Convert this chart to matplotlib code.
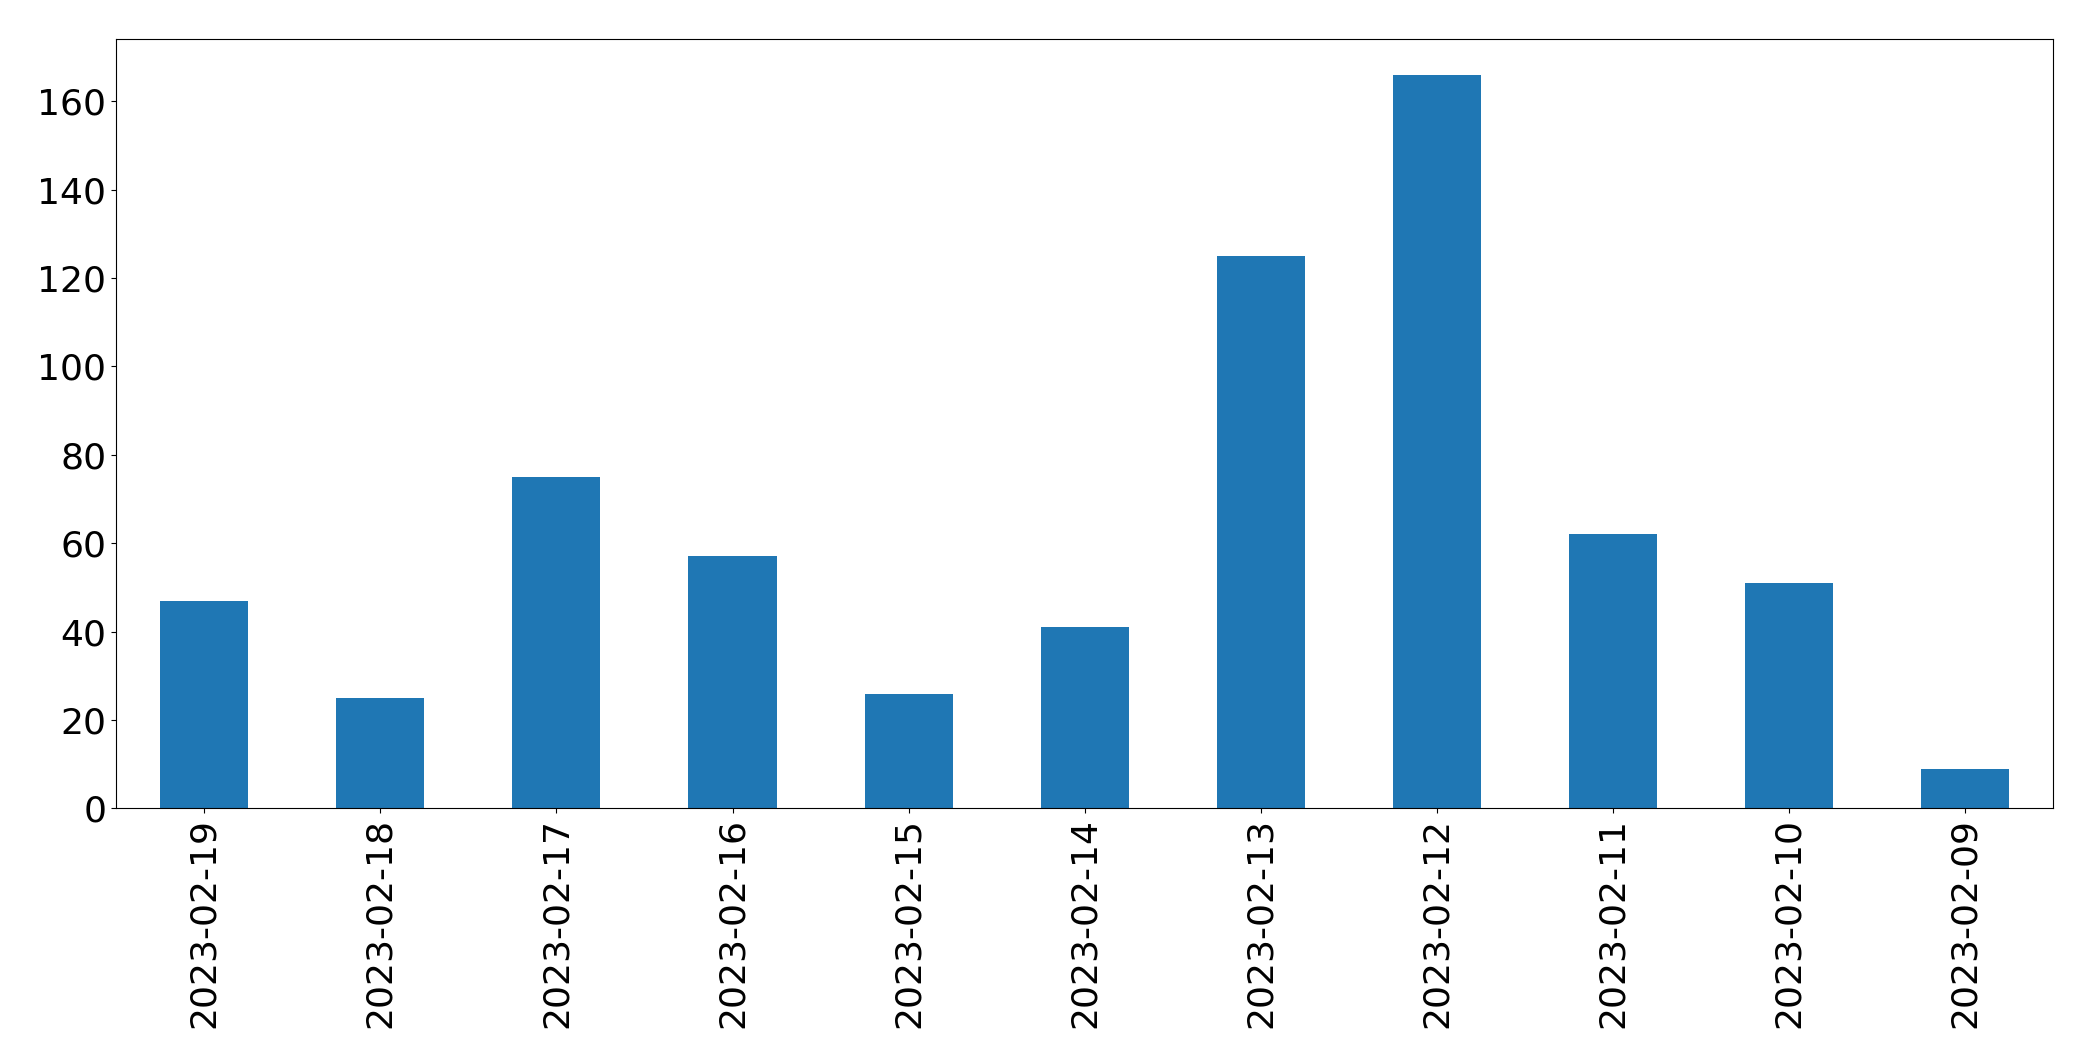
import matplotlib
matplotlib.use('Agg')
from matplotlib import pyplot as plt
import numpy as np

dates = ['2023-02-19', '2023-02-18', '2023-02-17', '2023-02-16', '2023-02-15', '2023-02-14',
         '2023-02-13', '2023-02-12', '2023-02-11', '2023-02-10', '2023-02-09']
counts = [47, 25, 75, 57, 26, 41, 125, 166, 62, 51, 9]

fig = plt.figure(figsize=(20.93, 10.61), dpi=100)
ax = fig.add_axes([0.0555, 0.238, 0.9255, 0.725])
x = np.arange(len(dates))
ax.bar(x, counts, width=0.5, color='#1f77b4')
ax.set_xlim(-0.5, len(dates) - 0.5)
ax.set_ylim(0, 174)
ax.set_xticks(x)
ax.set_xticklabels(dates, rotation=90)
ax.tick_params(labelsize=26)

plt.savefig('out.png')
plt.close(fig)
